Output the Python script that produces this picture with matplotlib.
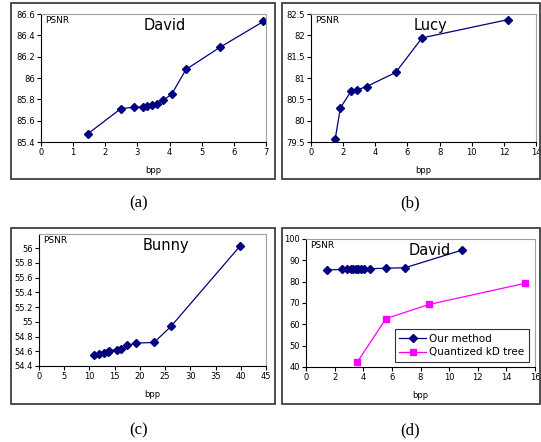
import matplotlib
matplotlib.use("Agg")
import matplotlib.pyplot as plt
from matplotlib.patches import Rectangle

# David (our method)
david_bpp = [1.45, 2.49, 2.90, 3.18, 3.29, 3.44, 3.62, 3.80, 4.07, 4.51, 5.58, 6.92]
david_psnr = [85.475, 85.714, 85.726, 85.73, 85.74, 85.75, 85.76, 85.79, 85.85, 86.08, 86.29, 86.53]

# Lucy
lucy_bpp = [1.51, 1.83, 2.51, 2.86, 3.46, 5.27, 6.91, 12.28]
lucy_psnr = [79.58, 80.30, 80.70, 80.72, 80.80, 81.13, 81.94, 82.37]

# Bunny
bunny_bpp = [10.99, 11.98, 12.97, 13.63, 13.96, 15.42, 16.28, 17.54, 19.19, 22.83, 26.2, 39.9]
bunny_psnr = [54.555, 54.56, 54.57, 54.59, 54.61, 54.62, 54.63, 54.68, 54.71, 54.72, 54.94, 56.03]

# David comparison
ours_bpp = [1.44, 2.49, 2.89, 3.17, 3.31, 3.47, 3.66, 3.82, 4.05, 4.47, 5.57, 6.92, 10.9]
ours_psnr = [85.47, 85.71, 85.72, 85.73, 85.74, 85.75, 85.76, 85.79, 85.85, 86.08, 86.29, 86.53, 94.8]
kd_bpp = [3.59, 5.59, 8.59, 15.28]
kd_psnr = [42.35, 62.7, 69.3, 79.2]

navy = "#00007f"
W, H = 541, 442

fig = plt.figure(figsize=(W / 100, H / 100), dpi=100)


def px_axes(x0, y0, x1, y1):
    return fig.add_axes([x0 / W, 1 - y1 / H, (x1 - x0) / W, (y1 - y0) / H])


def style(ax, title, xlim, xticks, ylim, yticks, title_x=0.55):
    ax.set_xlim(*xlim)
    ax.set_ylim(*ylim)
    ax.set_xticks(xticks)
    ax.set_yticks(yticks)
    ax.set_xticklabels([f"{t:g}" for t in xticks])
    ax.set_yticklabels([f"{t:g}" for t in yticks])
    ax.tick_params(labelsize=6, direction="out", length=3, width=0.8, pad=1.5)
    for s in ["top", "right"]:
        ax.spines[s].set_color("#a0a0a0")
    for s in ["left", "bottom"]:
        ax.spines[s].set_color("black")
    ax.set_xlabel("bpp", fontsize=6, labelpad=6)
    ax.text(0.02, 0.985, "PSNR", transform=ax.transAxes, fontsize=6.5, va="top", ha="left")
    ax.text(title_x, 0.97, title, transform=ax.transAxes, fontsize=10.5, va="top", ha="center")


# outer frames
for (x0, y0, x1, y1) in [(11, 3, 275, 179), (282, 3, 540, 179), (11, 228, 275, 404), (282, 228, 540, 404)]:
    fig.patches.append(Rectangle((x0 / W, 1 - y1 / H), (x1 - x0) / W, (y1 - y0) / H,
                                 transform=fig.transFigure, fill=False,
                                 edgecolor="#404040", linewidth=1.3))

# (a)
ax = px_axes(41, 14, 266, 142)
ax.plot(david_bpp, david_psnr, color=navy, marker="D", markersize=4, linewidth=0.9)
style(ax, "David", (0, 7), range(0, 8), (85.4, 86.6), [85.4, 85.6, 85.8, 86, 86.2, 86.4, 86.6])

# (b)
ax = px_axes(311, 14, 536, 142)
ax.plot(lucy_bpp, lucy_psnr, color=navy, marker="D", markersize=4, linewidth=0.9)
style(ax, "Lucy", (0, 14), range(0, 15, 2), (79.5, 82.5), [79.5, 80, 80.5, 81, 81.5, 82, 82.5], title_x=0.53)

# (c)
ax = px_axes(39, 234, 266, 366)
ax.plot(bunny_bpp, bunny_psnr, color=navy, marker="D", markersize=4, linewidth=0.9)
style(ax, "Bunny", (0, 45), range(0, 46, 5), (54.4, 56.19), [54.4, 54.6, 54.8, 55, 55.2, 55.4, 55.6, 55.8, 56], title_x=0.56)

# (d)
ax = px_axes(306, 239, 535, 367)
ax.plot(ours_bpp, ours_psnr, color=navy, marker="D", markersize=4, linewidth=0.9, label="Our method")
ax.plot(kd_bpp, kd_psnr, color="#ff00ff", marker="s", markersize=5, linewidth=0.9, label="Quantized kD tree")
style(ax, "David", (0, 16), range(0, 17, 2), (40, 100), range(40, 101, 10), title_x=0.54)
leg = ax.legend(loc="lower right", fontsize=7.5, frameon=True, fancybox=False,
                borderpad=0.45, labelspacing=0.3, handlelength=2.6, handletextpad=0.3,
                borderaxespad=0, bbox_to_anchor=(0.975, 0.04))
leg.get_frame().set_edgecolor("black")
leg.get_frame().set_linewidth(0.8)

# captions
for label, x, y in [("(a)", 139, 203), ("(b)", 410, 203), ("(c)", 139, 430), ("(d)", 410, 430)]:
    fig.text(x / W, 1 - y / H, label, fontsize=12, family="Liberation Serif", ha="center", va="center")

fig.savefig("out.png", dpi=100)
